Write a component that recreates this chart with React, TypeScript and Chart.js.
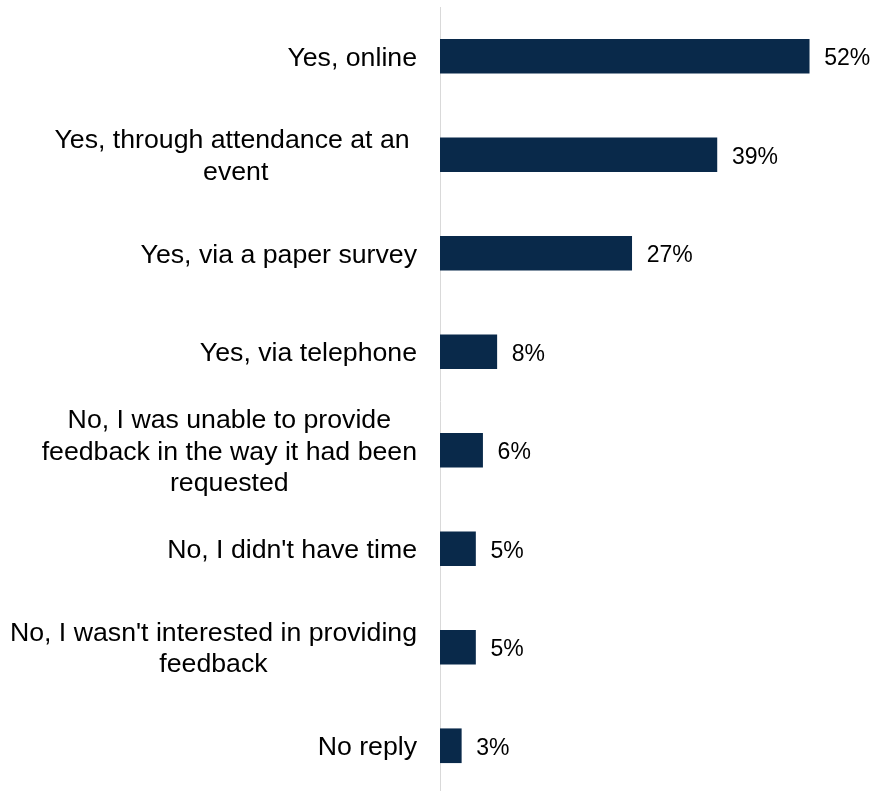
import React, { useEffect, useRef } from 'react';
import { Chart, registerables } from 'chart.js';

Chart.register(...registerables);

const categories: string[][] = [
  ['Yes, online'],
  ['Yes, through attendance at an ', 'event'],
  ['Yes, via a paper survey'],
  ['Yes, via telephone'],
  ['No, I was unable to provide', 'feedback in the way it had been', 'requested'],
  ["No, I didn't have time"],
  ["No, I wasn't interested in providing", 'feedback'],
  ['No reply'],
];
const values: number[] = [52, 39, 27, 8, 6, 5, 5, 3];
const valueLabels: string[] = values.map((v) => `${v}%`);

const FONT = '"Liberation Sans", Arial, sans-serif';

const labelPlugin = {
  id: 'customLabels',
  afterDraw(chart: any) {
    const ctx = chart.ctx;
    const yScale = chart.scales.y;
    const area = chart.chartArea;
    ctx.save();
    // category labels
    ctx.font = `26.7px ${FONT}`;
    ctx.fillStyle = '#000000';
    ctx.textAlign = 'center';
    ctx.textBaseline = 'middle';
    const rightEdge = area.left - 23;
    const lineH = 31.5;
    categories.forEach((lines, i) => {
      const y = yScale.getPixelForValue(i) + 2;
      const w = Math.max(...lines.map((l) => ctx.measureText(l).width));
      const cx = rightEdge - w / 2;
      const startY = y - ((lines.length - 1) * lineH) / 2;
      lines.forEach((l, j) => {
        ctx.fillText(l, cx, startY + j * lineH);
      });
    });
    // value labels
    ctx.font = `23px ${FONT}`;
    ctx.textAlign = 'left';
    const meta = chart.getDatasetMeta(0);
    meta.data.forEach((el: any, i: number) => {
      ctx.fillText(valueLabels[i], el.x + 15, el.y + 2.5);
    });
    ctx.restore();
  },
};

export default function App() {
  const ref = useRef<HTMLCanvasElement | null>(null);
  useEffect(() => {
    if (!ref.current) return;
    const chart = new Chart(ref.current, {
      type: 'bar',
      data: {
        labels: categories.map((c) => c.join(' ')),
        datasets: [
          {
            data: values,
            backgroundColor: '#09294A',
            borderWidth: 0,
            barThickness: 34,
          },
        ],
      },
      options: {
        indexAxis: 'y',
        animation: false,
        responsive: false,
        maintainAspectRatio: false,
        layout: { padding: { left: 8, top: 7, bottom: 2, right: 7 } },
        plugins: {
          legend: { display: false },
          tooltip: { enabled: false },
          title: { display: false },
        },
        scales: {
          x: {
            display: false,
            min: 0,
            max: 60,
          },
          y: {
            grid: { display: false, drawTicks: false },
            border: { display: true, color: '#d9d9d9', width: 1 },
            ticks: { display: false },
            afterFit: (scale: any) => {
              scale.width = 432;
            },
          },
        },
      },
      plugins: [labelPlugin],
    });
    return () => chart.destroy();
  }, []);
  return (
    <div style={{ position: 'fixed', left: 0, top: 0, width: 873, height: 797 }}>
      <canvas ref={ref} width={873} height={797} style={{ width: 873, height: 797 }} />
    </div>
  );
}
